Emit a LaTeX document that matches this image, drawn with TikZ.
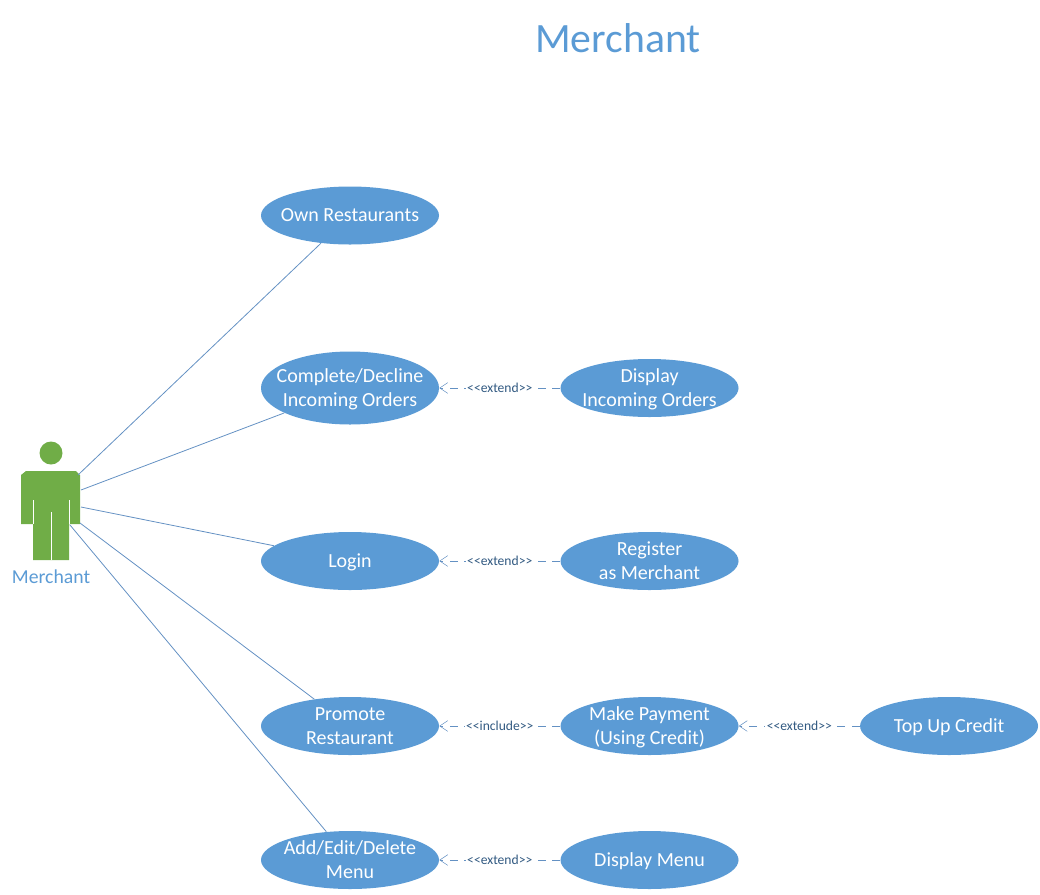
\documentclass[tikz,border=0pt]{standalone}
\usepackage{fontspec}
\setmainfont{Carlito}
\usetikzlibrary{shapes.geometric, arrows.meta, positioning}
\definecolor{usecaseblue}{RGB}{91, 155, 213}
\definecolor{actorgreen}{RGB}{112, 173, 71}
\definecolor{linkblue}{RGB}{100, 145, 195}
\definecolor{stereotext}{RGB}{50, 90, 130}
\tikzset{
  usecase/.style={ellipse, fill=usecaseblue, text=white, align=center, inner xsep=-25pt, inner ysep=-12pt,
    text depth=-2pt, minimum width=133.5pt, minimum height=43.5pt, font=\fontsize{15}{18}\selectfont},
  assoc/.style={linkblue, line width=0.6pt},
  relarrow/.style={-{Straight Barb[length=6pt, width=8pt, line width=0.4pt]}, linkblue, dashed, dash pattern=on 6pt off 5pt, line width=0.6pt},
  stereo/.style={midway, fill=white, text=stereotext, inner sep=1pt, font=\fontsize{10.2}{11}\selectfont}
}
\begin{document}
\begin{tikzpicture}[x=0.75pt, y=-0.75pt]
    \useasboundingbox (0,0) rectangle (1040,894);
    \node (title) [text=usecaseblue, font=\fontsize{31.3}{36}\selectfont] at (618,38) {Merchant};

    % actor
    \fill[actorgreen] (51,453) circle (11.5);
    \fill[actorgreen] (21,475) -- (26,471) -- (76,471) -- (80,475) -- (80,524) -- (69,524) -- (69,560)
        -- (33,560) -- (33,524) -- (21,524) -- cycle;
    \draw[white, line width=0.6pt] (33,500) -- (33,524);
    \draw[white, line width=0.6pt] (69,500) -- (69,524);
    \draw[white, line width=0.6pt] (51,512) -- (51,560);
    \node (actor) [text=usecaseblue, font=\fontsize{14.8}{18}\selectfont] at (51,577) {Merchant};
    \coordinate (handa) at (78,475);
    \coordinate (handb) at (81,490);
    \coordinate (handc) at (81,507);
    \coordinate (handd) at (80,523);
    \coordinate (hande) at (70,525);

    % left column
    \node (own) [usecase] at (350,215.5) {Own Restaurants};
    \node (complete) [usecase, minimum height=54.75pt] at (350,388) {Complete/Decline\\Incoming Orders};
    \node (login) [usecase] at (350,561) {Login};
    \node (promote) [usecase] at (350,726) {Promote\\Restaurant};
    \node (menu) [usecase] at (350,860) {Add/Edit/Delete\\Menu};

    % right columns
    \node (incoming) [usecase, right=90.75pt of complete] {Display\\Incoming Orders};
    \node (register) [usecase, right=90.75pt of login] {Register\\as Merchant};
    \node (payment) [usecase, right=90.75pt of promote] {Make Payment\\(Using Credit)};
    \node (topup) [usecase, right=90.75pt of payment] {Top Up Credit};
    \node (display) [usecase, right=90.75pt of menu] {Display Menu};

    \draw[assoc] (handa) -- (own);
    \draw[assoc] (handb) -- (complete);
    \draw[assoc] (handc) -- (login);
    \draw[assoc] (handd) -- (promote);
    \draw[assoc] (hande) -- (menu);

    \draw[relarrow] (incoming) -- node[stereo] {<{}<extend>{}>} (complete);
    \draw[relarrow] (register) -- node[stereo] {<{}<extend>{}>} (login);
    \draw[relarrow] (payment) -- node[stereo] {<{}<include>{}>} (promote);
    \draw[relarrow] (topup) -- node[stereo] {<{}<extend>{}>} (payment);
    \draw[relarrow] (display) -- node[stereo] {<{}<extend>{}>} (menu);
\end{tikzpicture}
\end{document}
